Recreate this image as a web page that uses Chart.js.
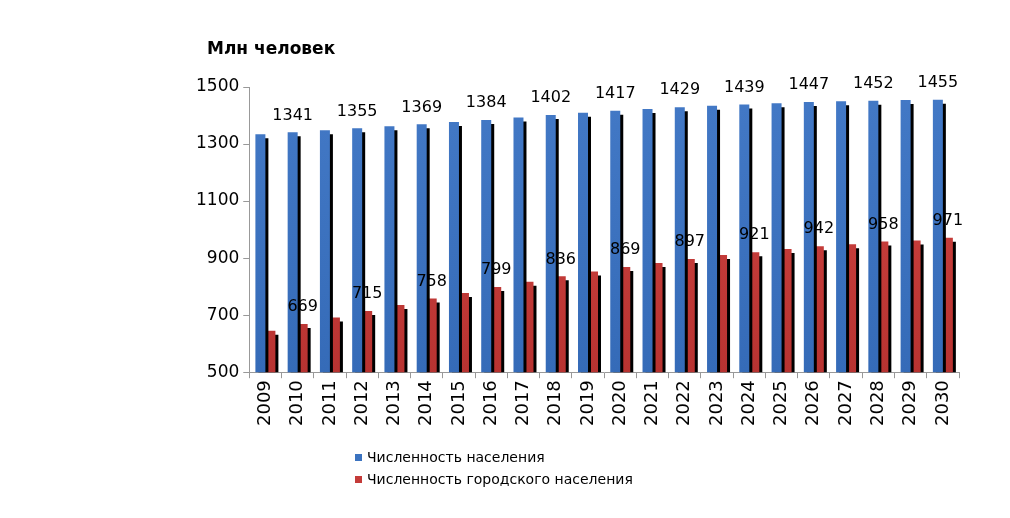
<!DOCTYPE html>
<html><head><meta charset="utf-8">
<script src="https://cdn.jsdelivr.net/npm/chart.js@4.4.0/dist/chart.umd.min.js"></script>
<style>
html,body{margin:0;padding:0;background:#fff;}
#wrap{position:relative;width:1010px;height:518px;}
#title{position:absolute;left:207px;top:38px;font:bold 17px "DejaVu Sans",sans-serif;color:#000;line-height:20px;}
#legend{position:absolute;left:355px;top:446px;font:14px "DejaVu Sans",sans-serif;color:#000;}
.li{display:flex;align-items:center;height:22px;white-space:nowrap;}
.sw{width:7px;height:7px;margin-right:5px;display:inline-block;}
</style></head>
<body><div id="wrap"><canvas id="c" width="1010" height="518" style="width:1010px;height:518px;"></canvas><div id="title">Млн человек</div><div id="legend"></div></div>
<script>
const years = ['2009','2010','2011','2012','2013','2014','2015','2016','2017','2018','2019','2020','2021','2022','2023','2024','2025','2026','2027','2028','2029','2030'];
const totalPopulation = [1334,1341,1348,1355,1362,1369,1377,1384,1393,1402,1410,1417,1423,1429,1434,1439,1443,1447,1450,1452,1454,1455];
const urbanPopulation = [645,669,692,715,736,758,778,799,817,836,853,869,883,897,911,921,932,942,949,958,962,971];
const seriesNames = ['Численность населения','Численность городского населения'];
const yTicks = [500,700,900,1100,1300,1500];
const legendColors = ['#3b73c0','#c43b39'];

function grad(ctx, top, bottom){
  const ch = ctx.chart; const a = ch.chartArea;
  if(!a) return top;
  const g = ch.ctx.createLinearGradient(0, a.top, 0, a.bottom);
  g.addColorStop(0, top); g.addColorStop(1, bottom);
  return g;
}

const shadowPlugin = {
  id:'shadow',
  beforeDatasetDraw(chart){ const c=chart.ctx; c.save(); c.shadowColor='#000'; c.shadowOffsetX=3; c.shadowOffsetY=4; c.shadowBlur=0; },
  afterDatasetDraw(chart){ chart.ctx.restore(); }
};
const labelPlugin = {
  id:'vlabels',
  afterDatasetsDraw(chart){
    const c = chart.ctx; c.save();
    c.font = '16px "DejaVu Sans", sans-serif'; c.fillStyle='#000'; c.textAlign='center'; c.textBaseline='middle';
    chart.data.datasets.forEach((ds,di)=>{
      const meta = chart.getDatasetMeta(di);
      meta.data.forEach((bar,i)=>{
        if(i%2!==1) return;
        c.fillText(String(ds.data[i]), bar.x, bar.y-17);
      });
    });
    c.restore();
  }
};

new Chart(document.getElementById('c'), {
  type:'bar',
  data:{
    labels: years,
    datasets:[
      {label:seriesNames[0], data:totalPopulation, clip:0, backgroundColor:(ctx)=>grad(ctx,'#4379c6','#356bb8'), borderWidth:0, categoryPercentage:0.62, barPercentage:1},
      {label:seriesNames[1], data:urbanPopulation, clip:0, backgroundColor:(ctx)=>grad(ctx,'#d24643','#b83331'), borderWidth:0, categoryPercentage:0.62, barPercentage:1}
    ]
  },
  options:{
    responsive:false, animation:false, devicePixelRatio:1,
    layout:{padding:{left:192,right:51,top:87,bottom:90}},
    plugins:{legend:{display:false}, tooltip:{enabled:false}},
    scales:{
      x:{
        grid:{display:true, drawOnChartArea:false, tickLength:6, color:'#999', offset:true},
        border:{display:true, color:'#999'},
        ticks:{minRotation:90, maxRotation:90, autoSkip:false, color:'#000', font:{family:'DejaVu Sans', size:18}, padding:2}
      },
      y:{
        min:500, max:1500,
        afterBuildTicks(scale){ scale.ticks = yTicks.map(v=>({value:v})); },
        grid:{display:true, drawOnChartArea:false, tickLength:6, color:'#999'},
        border:{display:true, color:'#999'},
        ticks:{color:'#000', font:{family:'DejaVu Sans', size:17}, padding:4, callback:(v)=>String(v)}
      }
    }
  },
  plugins:[shadowPlugin,labelPlugin]
});

const lg = document.getElementById('legend');
seriesNames.forEach((n,i)=>{
  const d=document.createElement('div'); d.className='li';
  const s=document.createElement('span'); s.className='sw'; s.style.background=legendColors[i];
  d.appendChild(s); d.appendChild(document.createTextNode(n)); lg.appendChild(d);
});
</script>
</body></html>
